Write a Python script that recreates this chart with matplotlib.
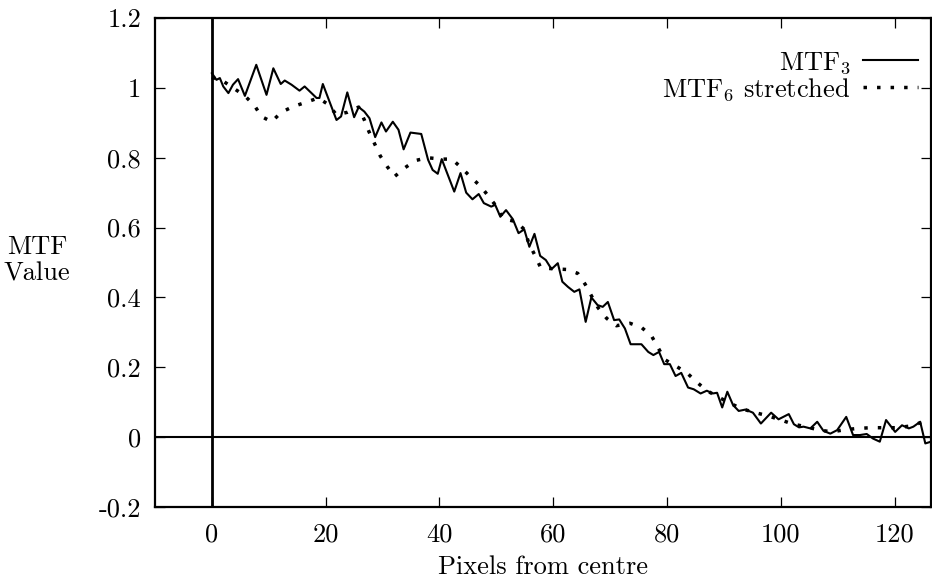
import matplotlib
matplotlib.use('Agg')
import matplotlib.pyplot as plt
from matplotlib.ticker import FuncFormatter, MultipleLocator

plt.rcParams['font.family'] = ['cmr10', 'DejaVu Serif']
plt.rcParams['mathtext.fontset'] = 'cm'
plt.rcParams['axes.unicode_minus'] = False

# MTF_3 (solid)
x3 = [0.0, 0.8, 1.4, 2.0, 2.9, 3.7, 4.6, 5.8, 7.8, 9.6, 10.8, 12.1, 12.8, 14.0, 15.4, 16.3,
      18.4, 18.9, 19.5, 21.9, 22.7, 23.8, 25.0, 25.8, 26.8, 27.7, 28.7, 29.8, 30.6, 31.8,
      32.8, 33.7, 34.9, 36.8, 38.0, 38.8, 39.7, 40.4, 42.6, 43.7, 44.7, 45.8, 46.9, 47.8,
      49.1, 49.8, 50.7, 51.7, 52.9, 53.9, 54.9, 55.8, 56.7, 57.7, 58.7, 59.7, 60.8, 61.6,
      62.6, 63.7, 64.6, 65.7, 66.7, 67.8, 68.7, 69.6, 70.7, 71.6, 72.6, 73.6, 75.5, 76.7,
      77.6, 78.6, 79.5, 80.5, 81.5, 82.5, 83.7, 84.7, 85.9, 87.0, 88.0, 88.8, 89.7, 90.6,
      91.6, 92.6, 93.8, 95.1, 96.5, 98.3, 99.6, 101.4, 102.3, 103.2, 104.0, 105.2, 106.4,
      107.5, 108.7, 109.9, 111.5, 112.7, 113.9, 115.1, 116.2, 117.4, 118.5, 120.1, 121.3,
      122.5, 123.3, 124.5, 125.4, 126.4]
y3 = [1.042, 1.023, 1.028, 1.004, 0.985, 1.009, 1.025, 0.977, 1.066, 0.980, 1.056, 1.011,
      1.021, 1.009, 0.992, 1.004, 0.971, 0.971, 1.011, 0.908, 0.918, 0.987, 0.916, 0.945,
      0.932, 0.913, 0.859, 0.901, 0.875, 0.903, 0.880, 0.824, 0.872, 0.868, 0.794, 0.765,
      0.754, 0.796, 0.703, 0.756, 0.700, 0.681, 0.696, 0.670, 0.660, 0.665, 0.631, 0.650,
      0.624, 0.584, 0.595, 0.545, 0.582, 0.519, 0.507, 0.481, 0.498, 0.445, 0.430, 0.416,
      0.423, 0.330, 0.400, 0.378, 0.373, 0.387, 0.335, 0.337, 0.311, 0.266, 0.266, 0.244,
      0.235, 0.244, 0.209, 0.209, 0.175, 0.184, 0.142, 0.137, 0.125, 0.133, 0.125, 0.127,
      0.085, 0.130, 0.092, 0.075, 0.079, 0.070, 0.039, 0.070, 0.051, 0.066, 0.037, 0.028,
      0.030, 0.025, 0.044, 0.018, 0.010, 0.020, 0.058, 0.006, 0.006, 0.009, -0.004, -0.013,
      0.049, 0.015, 0.034, 0.025, 0.030, 0.044, -0.018, -0.013]

# MTF_6 stretched (dotted)
x6 = [0.0, 2.1, 4.0, 5.8, 7.5, 8.7, 10.5, 12.2, 14.2, 16.4, 18.7, 20.4, 21.9, 23.8, 25.8,
      26.8, 27.6, 28.6, 29.6, 30.8, 32.1, 34.0, 35.8, 37.9, 40.3, 42.2, 44.0, 45.6, 47.3,
      48.8, 49.8, 51.2, 53.5, 55.0, 55.7, 56.8, 57.8, 60.0, 62.4, 64.3, 65.6, 66.8, 67.9,
      69.4, 71.1, 73.5, 75.6, 77.3, 78.4, 79.6, 81.5, 83.5, 85.2, 87.0, 89.0, 91.2, 93.2,
      95.3, 97.5, 99.7, 102.0, 104.3, 106.6, 108.9, 111.2, 113.5, 115.9, 118.2, 120.5,
      122.8, 125.1, 126.4]
y6 = [1.030, 1.018, 0.997, 0.977, 0.949, 0.918, 0.903, 0.930, 0.946, 0.958, 0.971, 0.953,
      0.923, 0.930, 0.945, 0.908, 0.875, 0.840, 0.805, 0.775, 0.746, 0.772, 0.792, 0.800,
      0.796, 0.796, 0.769, 0.743, 0.717, 0.686, 0.665, 0.625, 0.617, 0.593, 0.555, 0.520,
      0.485, 0.482, 0.480, 0.469, 0.438, 0.402, 0.370, 0.340, 0.319, 0.326, 0.313, 0.289,
      0.257, 0.222, 0.204, 0.184, 0.158, 0.133, 0.115, 0.096, 0.081, 0.071, 0.062, 0.051,
      0.038, 0.030, 0.021, 0.015, 0.021, 0.025, 0.027, 0.027, 0.027, 0.032, 0.044, 0.045]

labels = [r'MTF$_3$', r'MTF$_6$ stretched']
xlabel = 'Pixels from centre'
ylabel = 'MTF\nValue'

FS = 19
W, H = 932, 580
fig = plt.figure(figsize=(W / 100, H / 100), dpi=100)
ax = fig.add_axes([155 / W, 73 / H, 776 / W, 489 / H])

ax.axhline(0, color='black', lw=1.5, zorder=1)
ax.axvline(0, color='black', lw=2.0, zorder=1)
ax.plot(x3, y3, color='black', lw=1.5, label=labels[0], zorder=3)
ax.plot(x6, y6, color='black', lw=2.5, linestyle=(0, (1, 2.9)), dash_capstyle='butt',
        label=labels[1], zorder=2)

ax.set_xlim(-10, 126.4)
ax.set_ylim(-0.2, 1.2)
ax.xaxis.set_major_locator(MultipleLocator(20))
ax.yaxis.set_major_locator(MultipleLocator(0.2))
ax.yaxis.set_major_formatter(FuncFormatter(lambda v, p: '0' if abs(v) < 1e-9 else f'{v:g}'))
ax.xaxis.set_major_formatter(FuncFormatter(lambda v, p: f'{v:g}'))
ax.tick_params(direction='in', length=7.5, width=0.9, top=True, right=True,
               labelsize=FS)
ax.tick_params(axis='x', pad=11)
ax.tick_params(axis='y', pad=10)
for s in ax.spines.values():
    s.set_linewidth(1.6)

ax.set_xlabel(xlabel, fontsize=FS, labelpad=7)
ax.set_ylabel(ylabel, fontsize=FS, rotation=0, ha='center', va='center',
              multialignment='center', linespacing=1.15)
ax.yaxis.set_label_coords(-0.152, 0.505)

leg = ax.legend(loc='upper right', bbox_to_anchor=((918 - 155) / 776, (507 - 50) / 489),
                frameon=False, markerfirst=False, fontsize=FS, handlelength=2.1,
                handletextpad=0.45, borderpad=0, borderaxespad=0, labelspacing=0.0)

fig.savefig('out.png', dpi=100)
